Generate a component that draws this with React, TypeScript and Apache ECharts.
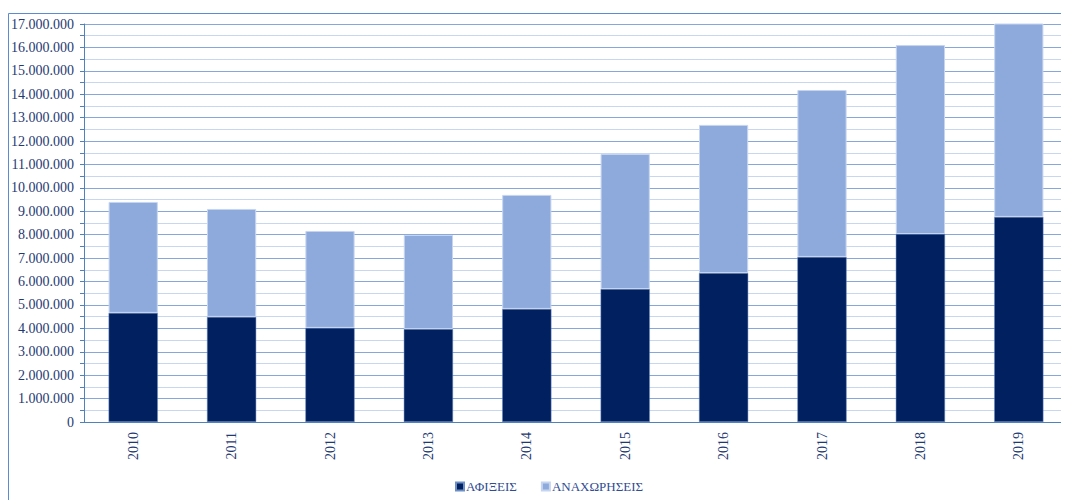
import React, { useEffect, useRef } from "react";
import * as echarts from "echarts";

const years = ["2010", "2011", "2012", "2013", "2014", "2015", "2016", "2017", "2018", "2019"];
const arrivals = [4660000, 4490000, 4020000, 3970000, 4830000, 5680000, 6360000, 7050000, 8030000, 8760000];
const departures = [4740000, 4610000, 4140000, 4020000, 4870000, 5770000, 6330000, 7130000, 8070000, 8280000];
const seriesNames = ["ΑΦΙΞΕΙΣ", "ΑΝΑΧΩΡΗΣΕΙΣ"];

const fmt = (v: number) => String(Math.round(v)).replace(/\B(?=(\d{3})+(?!\d))/g, ".");

export default function App() {
  const ref = useRef<HTMLDivElement>(null);
  useEffect(() => {
    if (!ref.current) return;
    const chart = echarts.init(ref.current, undefined, { renderer: "svg" });
    const font = "Liberation Serif";
    const textColor = "#1f3a73";
    chart.setOption({
      animation: false,
      textStyle: { fontFamily: font },
      graphic: [
        { type: "line", shape: { x1: 0.5, y1: 5.5, x2: 1061, y2: 5.5 }, style: { stroke: "#5b8bd0", lineWidth: 1 } },
        { type: "line", shape: { x1: 0.5, y1: 5.5, x2: 0.5, y2: 492 }, style: { stroke: "#5b8bd0", lineWidth: 1 } },
      ],
      legend: {
        data: seriesNames,
        left: 442,
        top: 467,
        itemWidth: 8,
        itemHeight: 8,
        itemGap: 24,
        icon: "rect",
        textStyle: { fontFamily: font, fontSize: 13, color: "#2f4c94", padding: [0, 0, 0, -3] },
      },
      grid: { left: 76, right: 1, top: 16, bottom: 78, containLabel: false },
      xAxis: {
        type: "category",
        data: years,
        axisLine: { show: true, lineStyle: { color: "#4f81bd", width: 1 } },
        axisTick: { show: false },
        axisLabel: { rotate: 90, margin: 10, fontSize: 14, color: textColor, fontFamily: font },
      },
      yAxis: {
        type: "value",
        min: 0,
        max: 17000000,
        interval: 1000000,
        axisLine: { show: true, lineStyle: { color: "#4f81bd", width: 1 } },
        axisTick: { show: true, length: 4, lineStyle: { color: "#4f81bd" } },
        minorTick: { show: true, splitNumber: 2, length: 4, lineStyle: { color: "#4f81bd" } },
        splitLine: { show: true, lineStyle: { color: "#86a6dc", width: 1 } },
        minorSplitLine: { show: true, lineStyle: { color: "#c8d7ef", width: 1 } },
        axisLabel: { fontSize: 14, color: textColor, fontFamily: font, margin: 10, formatter: (v: number) => fmt(v) },
      },
      series: [
        {
          name: seriesNames[0],
          type: "bar",
          stack: "total",
          data: arrivals,
          barWidth: "50%",
          itemStyle: { color: "#002060", borderColor: "#6e8fc4", borderWidth: 0.5 },
        },
        {
          name: seriesNames[1],
          type: "bar",
          stack: "total",
          data: departures,
          barWidth: "50%",
          itemStyle: { color: "#8eaadc", borderColor: "#c6d5ef", borderWidth: 1 },
        },
      ],
    });
    return () => chart.dispose();
  }, []);
  return <div ref={ref} style={{ width: 1061, height: 492 }} />;
}
